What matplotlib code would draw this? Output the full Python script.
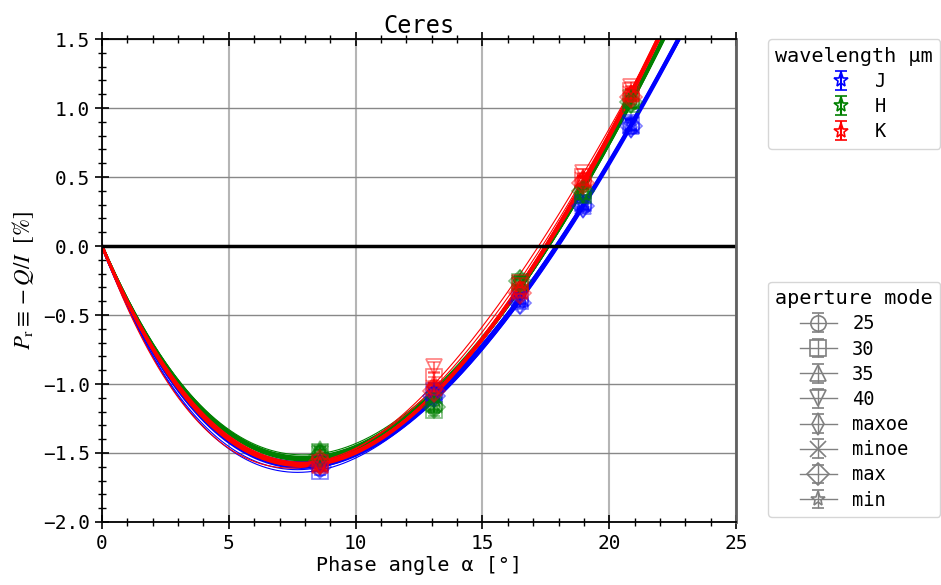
import numpy as np
import matplotlib
matplotlib.use("Agg")
import matplotlib.pyplot as plt
from matplotlib.ticker import MultipleLocator

plt.rcParams['font.family'] = 'DejaVu Sans Mono'
plt.rcParams['mathtext.fontset'] = 'stix'

# phase angles of the observations [deg]
phase = [8.6, 13.1, 16.5, 18.95, 20.85]
perr = [0.03, 0.04, 0.03, 0.03, 0.04]

modes = ['25', '30', '35', '40', 'maxoe', 'minoe', 'max', 'min']
markers = ['o', 's', '^', 'v', 'd', 'x', 'D', '*']

bands = ['J', 'H', 'K']
colors = ['blue', 'green', 'red']

# P_r [%] per aperture mode (rows) and phase angle (columns)
P_J = [[-1.61, -1.07, -0.39, 0.30, 0.87],
       [-1.63, -1.08, -0.40, 0.31, 0.88],
       [-1.57, -1.06, -0.38, 0.29, 0.87],
       [-1.58, -1.05, -0.37, 0.30, 0.89],
       [-1.59, -1.09, -0.41, 0.28, 0.86],
       [-1.56, -1.07, -0.38, 0.31, 0.88],
       [-1.60, -1.09, -0.41, 0.29, 0.87],
       [-1.57, -1.07, -0.39, 0.30, 0.88]]
P_H = [[-1.50, -1.16, -0.27, 0.38, 1.04],
       [-1.49, -1.19, -0.26, 0.37, 1.03],
       [-1.47, -1.14, -0.25, 0.40, 1.06],
       [-1.51, -1.12, -0.28, 0.38, 1.07],
       [-1.51, -1.16, -0.25, 0.39, 1.04],
       [-1.49, -1.15, -0.27, 0.38, 1.05],
       [-1.52, -1.17, -0.25, 0.40, 1.04],
       [-1.50, -1.15, -0.26, 0.38, 1.05]]
P_K = [[-1.58, -1.02, -0.31, 0.48, 1.10],
       [-1.57, -0.95, -0.29, 0.50, 1.12],
       [-1.59, -0.99, -0.32, 0.49, 1.11],
       [-1.60, -0.88, -0.27, 0.53, 1.15],
       [-1.57, -1.04, -0.33, 0.47, 1.09],
       [-1.59, -1.03, -0.33, 0.48, 1.10],
       [-1.56, -1.05, -0.34, 0.46, 1.08],
       [-1.58, -1.03, -0.32, 0.48, 1.10]]
P_all = [P_J, P_H, P_K]


def fit_linexp(x, y, err):
    # P = b*(exp(-a/c) - 1) + d*a ; linear in b, d for a fixed c
    x = np.asarray(x)
    y = np.asarray(y)
    w = 1 / np.asarray(err)
    best = None
    for c in np.linspace(1.0, 15.0, 400):
        A = np.vstack([np.exp(-x / c) - 1, x]).T
        coef, *_ = np.linalg.lstsq(A * w[:, None], y * w, rcond=None)
        chi2 = np.sum(((A @ coef - y) * w) ** 2)
        if best is None or chi2 < best[0]:
            best = (chi2, c, coef)
    _, c, (b, d) = best
    return lambda a: b * (np.exp(-a / c) - 1) + d * a


fig = plt.figure(figsize=(9.41, 5.85), dpi=100)
ax = fig.add_axes([0.1084, 0.1077, 0.6738, 0.8256])

xx = np.linspace(0, 25, 500)
for P, col in zip(P_all, colors):
    for i, (vals, mk) in enumerate(zip(P, markers)):
        ax.errorbar(phase, vals, yerr=perr, ls='none', marker=mk, ms=11,
                    mfc='none', mec=col, ecolor=col, capsize=4, alpha=0.5,
                    mew=1.2, zorder=3)
        f = fit_linexp(phase, vals, perr)
        lw = 0.8 if i < 4 else 2.0
        ax.plot(xx, f(xx), color=col, lw=lw, zorder=2)

ax.axhline(0, color='black', lw=2.5, zorder=2.5)

ax.set_xlim(0, 25)
ax.set_ylim(-2.0, 1.5)
ax.xaxis.set_major_locator(MultipleLocator(5))
ax.xaxis.set_minor_locator(MultipleLocator(1))
ax.yaxis.set_major_locator(MultipleLocator(0.5))
ax.yaxis.set_minor_locator(MultipleLocator(0.1))
ax.tick_params(which='both', direction='inout', top=True, right=False,
               labelsize=14)
ax.tick_params(which='major', length=10, width=1.2)
ax.tick_params(which='minor', length=6, width=1)
ax.xaxis.grid(True, color='#b5b5b5', lw=1.5)
ax.yaxis.grid(True, color='#888888', lw=1)
ax.set_axisbelow(True)
for s in ['left', 'bottom', 'top']:
    ax.spines[s].set_linewidth(1.3)
ax.spines['right'].set_color('#606060')
ax.spines['right'].set_linewidth(2)

ax.set_title('Ceres', fontsize=17, pad=4)
ax.set_xlabel('Phase angle α [°]', fontsize=14.5, labelpad=2)
ax.set_ylabel(r'$P_\mathrm{r} \equiv -Q/I$  [%]', fontsize=16.5,
              family='STIXGeneral', labelpad=5)

# legend handles
band_h = []
for col in colors:
    h = ax.errorbar([np.nan], [np.nan], yerr=[0.1], ls='none', marker='*',
                    ms=11, mfc='none', mec=col, ecolor=col, capsize=4, mew=1.2)
    band_h.append(h)
mode_h = []
for mk in markers:
    h = ax.errorbar([np.nan], [np.nan], yerr=[0.1], ls='-', marker=mk,
                    ms=11, mfc='none', mec='gray', color='gray', capsize=4,
                    lw=1, mew=1.2)
    mode_h.append(h)

leg1 = ax.legend(band_h, bands, title='wavelength µm', loc='upper left',
                 bbox_to_anchor=(1.05, 1.0), borderaxespad=0,
                 fontsize=13.5, title_fontsize=14.5, labelspacing=0.33)
ax.add_artist(leg1)
ax.legend(mode_h, modes, title='aperture mode', loc='lower left',
          bbox_to_anchor=(1.05, 0.01), borderaxespad=0,
          fontsize=13.5, title_fontsize=14.5, labelspacing=0.33)

fig.savefig('out.png', dpi=100)
